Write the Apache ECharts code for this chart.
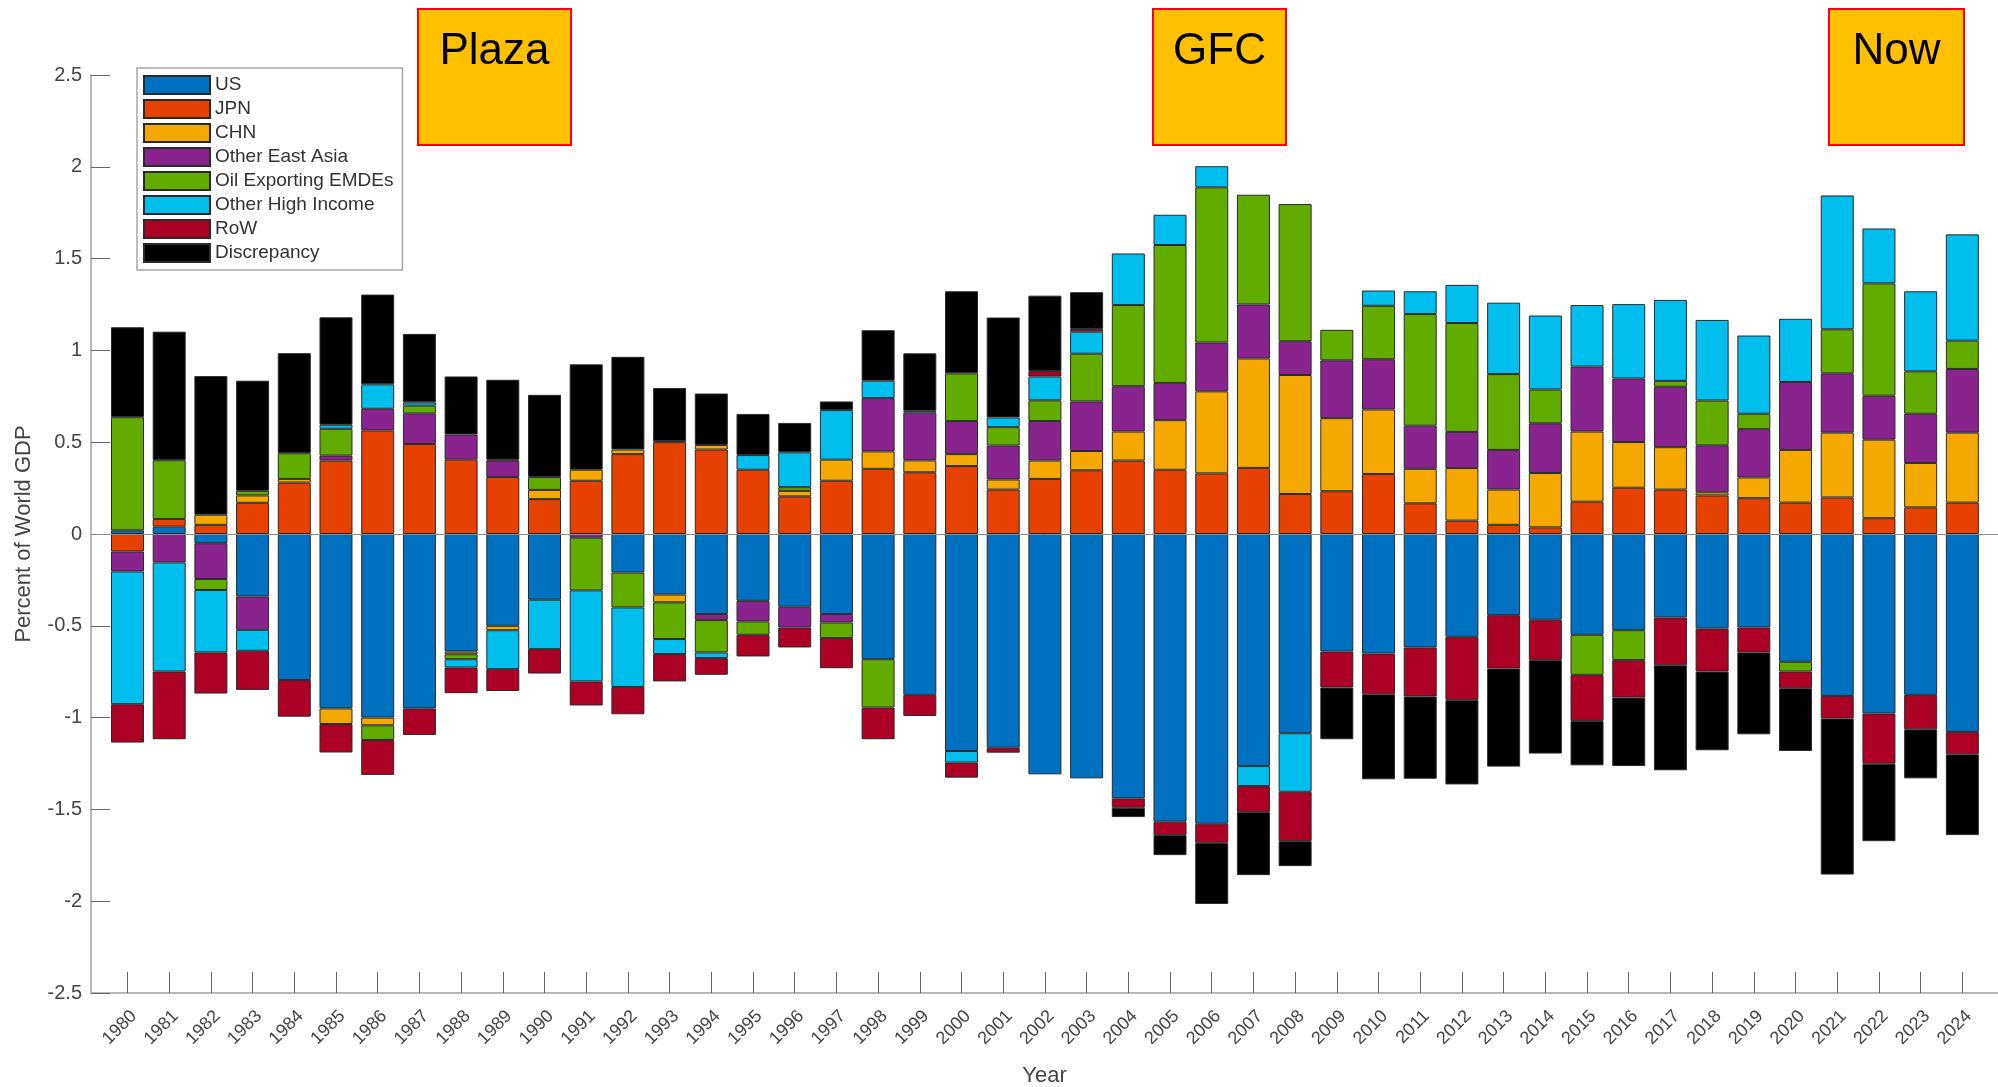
<!DOCTYPE html>
<html><head><meta charset="utf-8">
<script src="https://cdn.jsdelivr.net/npm/echarts@6/dist/echarts.min.js"></script>
<style>html,body{margin:0;padding:0;background:#fff;}#c{width:1998px;height:1087px;}</style>
</head><body><div id="c"></div>
<script>
const years = [1980,1981,1982,1983,1984,1985,1986,1987,1988,1989,1990,1991,1992,1993,1994,1995,1996,1997,1998,1999,2000,2001,2002,2003,2004,2005,2006,2007,2008,2009,2010,2011,2012,2013,2014,2015,2016,2017,2018,2019,2020,2021,2022,2023,2024];
const seriesNames = ['US','JPN','CHN','Other East Asia','Oil Exporting EMDEs','Other High Income','RoW','Discrepancy'];
const us   = [0.02,0.04,-0.05,-0.34,-0.795,-0.95,-1.0,-0.95,-0.64,-0.50, -0.358,0,-0.21,-0.33,-0.436,-0.364,-0.396,-0.436,-0.682,-0.876, -1.182,-1.164,-1.309,-1.331,-1.44,-1.567,-1.578,-1.264,-1.085,-0.64, -0.651,-0.618,-0.56,-0.442,-0.467,-0.549,-0.524,-0.455,-0.515,-0.509, -0.696,-0.882,-0.978,-0.876,-1.078];
const jpn  = [-0.095,0.042,0.05,0.17,0.28,0.40,0.564,0.49,0.405,0.31, 0.19,0.29,0.435,0.50,0.46,0.35,0.205,0.29,0.355,0.336, 0.37,0.242,0.30,0.347,0.40,0.35,0.33,0.36,0.218,0.233, 0.327,0.167,0.073,0.05,0.036,0.176,0.252,0.242,0.21,0.195, 0.171,0.199,0.086,0.145,0.171];
const chn  = [0,0,0.055,0.04,0.02,-0.085,-0.042,0,-0.015,-0.024, 0.05,0.06,0.025,-0.042,0.025,0,0.03,0.115,0.095,0.065, 0.065,0.055,0.10,0.105,0.158,0.27,0.447,0.596,0.648,0.398, 0.351,0.188,0.286,0.192,0.296,0.382,0.249,0.231,0.017,0.113, 0.287,0.353,0.428,0.242,0.381];
const oea  = [-0.109,-0.155,-0.195,-0.182,0,0.027,0.118,0.167,0.137,0.09, 0,-0.02,0,0.005,-0.033,-0.112,-0.113,-0.046,0.29,0.26, 0.18,0.185,0.215,0.27,0.247,0.203,0.266,0.294,0.184,0.315, 0.274,0.235,0.197,0.216,0.271,0.354,0.346,0.329,0.256,0.263, 0.37,0.323,0.239,0.268,0.347];
const oil  = [0.616,0.32,-0.06,0.025,0.14,0.146,-0.08,0.042,-0.027,0.005, 0.07,-0.287,-0.19,-0.20,-0.176,-0.073,0.02,-0.085,-0.263,0, 0.26,0.10,0.113,0.26,0.442,0.751,0.845,0.598,0.747,0.166, 0.291,0.608,0.593,0.413,0.184,-0.218,-0.163,0.032,0.244,0.084, -0.053,0.24,0.612,0.231,0.154];
const ohi  = [-0.723,-0.594,-0.34,-0.114,0,0.022,0.133,0.018,-0.045,-0.212, -0.269,-0.496,-0.433,-0.082,-0.031,0.08,0.19,0.27,0.095,0.01, -0.063,0.053,0.13,0.12,0.281,0.165,0.115,-0.109,-0.319,0, 0.083,0.124,0.208,0.389,0.403,0.335,0.405,0.441,0.439,0.426, 0.344,0.729,0.299,0.436,0.579];
const row  = [-0.209,-0.369,-0.224,-0.213,-0.20,-0.155,-0.19,-0.145,-0.14,-0.119, -0.133,-0.131,-0.149,-0.149,-0.091,-0.118,-0.109,-0.164,-0.173,-0.115, -0.082,-0.027,0.03,0.015,-0.051,-0.073,-0.104,-0.142,-0.269,-0.196, -0.222,-0.267,-0.345,-0.291,-0.22,-0.251,-0.204,-0.26,-0.234,-0.136, -0.091,-0.123,-0.273,-0.188,-0.122];
const disc = [0.49,0.70,0.755,0.60,0.545,0.585,0.489,0.373,0.316,0.435, 0.448,0.574,0.505,0.29,0.28,0.224,0.16,0.047,0.275,0.313, 0.447,0.544,0.41,0.20,-0.051,-0.109,-0.333,-0.343,-0.136,-0.282, -0.463,-0.448,-0.459,-0.534,-0.509,-0.242,-0.373,-0.572,-0.429,-0.446, -0.342,-0.85,-0.422,-0.267,-0.44];
const annotations = [
  {text:'Plaza', x0:418, x1:571},
  {text:'GFC', x0:1153, x1:1286},
  {text:'Now', x0:1829, x1:1964}
];

const FONT = "'Liberation Sans', Arial, sans-serif";
const colors = ['#0070C0','#E64100','#F5A900','#89248F','#62AC00','#00BEEE','#AC0026','#000000'];
const valueArrays = [us, jpn, chn, oea, oil, ohi, row, disc];

const series = valueArrays.map((arr, k) => {
  const s = {
    name: seriesNames[k],
    type: 'bar',
    stack: 'total',
    barWidth: 33,
    // value first so the stack is applied to the y dimension
    encode: {x: 1, y: 0},
    data: years.map((y, i) => [arr[i] === 0 ? null : arr[i], y]),
    itemStyle: {color: colors[k], borderColor: '#2a2a2a', borderWidth: 1},
    emphasis: {disabled: true},
    animation: false
  };
  if (k === 0) {
    s.markLine = {
      silent: true, symbol: ['none','none'], label: {show: false},
      lineStyle: {color: '#8c8c8c', width: 1, type: 'solid'},
      data: [{yAxis: 0}], animation: false
    };
  }
  return s;
});

const graphic = [];
annotations.forEach(a => {
  graphic.push({
    type: 'rect', z: 100,
    shape: {x: a.x0, y: 9, width: a.x1 - a.x0, height: 136},
    style: {fill: '#FFC000', stroke: '#FF0000', lineWidth: 2}
  });
  graphic.push({
    type: 'text', z: 101,
    style: {text: a.text, x: (a.x0 + a.x1) / 2, y: 52, align: 'center', verticalAlign: 'middle',
            font: "44px 'Liberation Sans', Arial, sans-serif", fill: '#000'}
  });
});

const chart = echarts.init(document.getElementById('c'), null, {renderer: 'canvas'});
chart.setOption({
  backgroundColor: '#fff',
  animation: false,
  textStyle: {fontFamily: FONT},
  grid: {left: 91, right: 0, top: 75, bottom: 94, containLabel: false, outerBoundsMode: 'none'},
  legend: {
    orient: 'vertical', left: 137, top: 68, padding: [7, 9, 7, 6],
    itemWidth: 66, itemHeight: 18, itemGap: 4, icon: 'rect',
    borderColor: '#a6a6a6', borderWidth: 1.5, backgroundColor: '#fff',
    textStyle: {fontSize: 19, color: '#333', lineHeight: 18, fontFamily: FONT},
    data: seriesNames, selectedMode: false
  },
  xAxis: {
    type: 'value', min: 1979.125, max: 2024.855,
    axisLine: {show: true, onZero: false, lineStyle: {color: '#b8b8b8', width: 2}},
    axisTick: {show: true, inside: true, length: 21, customValues: years, lineStyle: {color: '#666', width: 1}},
    axisLabel: {customValues: years, rotate: 45, margin: 14, align: 'right', verticalAlign: 'top',
                fontSize: 18, color: '#444', fontFamily: FONT, formatter: v => String(v)},
    splitLine: {show: false},
    name: 'Year', nameLocation: 'middle', nameGap: 72,
    nameTextStyle: {fontSize: 22, color: '#444', fontFamily: FONT}
  },
  yAxis: {
    type: 'value', min: -2.5, max: 2.5, interval: 0.5,
    axisLine: {show: true, onZero: false, lineStyle: {color: '#b8b8b8', width: 2}},
    axisTick: {show: true, inside: true, length: 19, lineStyle: {color: '#666', width: 1}},
    axisLabel: {fontSize: 20, color: '#444', margin: 9, fontFamily: FONT},
    splitLine: {show: false},
    name: 'Percent of World GDP', nameLocation: 'middle', nameGap: 56,
    nameTextStyle: {fontSize: 22, color: '#444', fontFamily: FONT}
  },
  series: series,
  graphic: graphic
});
</script>
</body></html>
